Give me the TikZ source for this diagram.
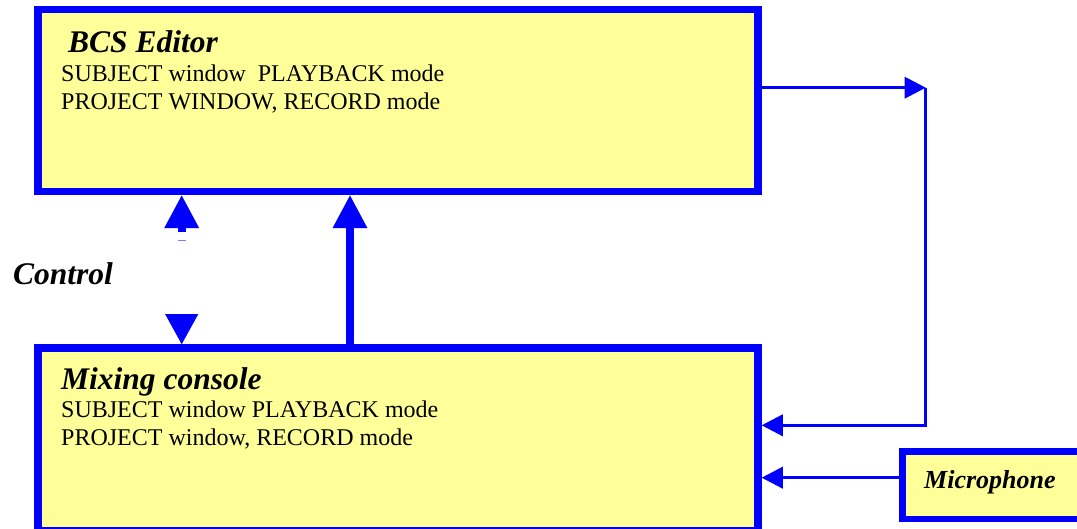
\documentclass[tikz,border=0pt]{standalone}
\usepackage{fontspec}
\setmainfont{Liberation Serif}
\usetikzlibrary{arrows.meta}
\definecolor{byel}{HTML}{FFFF99}
\definecolor{bblue}{HTML}{0000FF}
\tikzset{
  panel/.style={draw=bblue, fill=byel, line width=7.5pt, inner sep=0pt, rectangle},
  micbox/.style={draw=bblue, fill=byel, line width=6.7pt, inner sep=0pt, rectangle},
  titletext/.style={anchor=base west, inner sep=0pt, font=\fontsize{31.5}{36}\selectfont\bfseries\itshape},
  bodytext/.style={anchor=base west, inner sep=0pt, font=\fontsize{24}{28}\selectfont},
  mictext/.style={anchor=base west, inner sep=0pt, font=\fontsize{26}{30}\selectfont\bfseries\itshape},
  fatarrow/.style={draw=bblue, line width=7.6pt, -{Triangle[width=35pt,length=32.7pt,line width=0pt]}},
  thinarrow/.style={draw=bblue, line width=2.5pt, -{Triangle[width=22pt,length=21pt,line width=0pt]}},
  headonly/.style={draw=bblue, line width=1pt, -{Triangle[width=33pt,length=30pt,line width=0pt]}},
}
\begin{document}
\begin{tikzpicture}[x=1pt,y=-1pt]
\useasboundingbox (0,0) rectangle (1077,529);
% boxes
\node[panel, minimum width=720pt, minimum height=182.2pt] (top) at (398,100.6) {};
\node[panel, minimum width=720pt, minimum height=183pt] (mix) at (398,439.5) {};
\node[micbox, minimum width=182.5pt, minimum height=67.5pt] (mic) at (993.75,485.25) {};
% texts
\node[titletext] (toptitle) at (68,52.7) {BCS Editor};
\node[bodytext] (topl1) at (61,81.7) {SUBJECT window\ \ PLAYBACK mode};
\node[bodytext] (topl2) at (61,110) {PROJECT WINDOW, RECORD mode};
\node[titletext] (mixtitle) at (61,390) {Mixing console};
\node[bodytext] (mixl1) at (61,417.7) {SUBJECT window PLAYBACK mode};
\node[bodytext] (mixl2) at (61,446) {PROJECT window, RECORD mode};
\node[titletext] (ctl) at (13,285) {Control};
\node[mictext] (micl) at (924,488) {Microphone};
% coordinates
\coordinate (cu) at (181.7,232);
\coordinate (cd) at (181.7,314);
\coordinate (ra) at (350,0);
\coordinate (c1) at (925.7,87.7);
\coordinate (c2) at (925.7,425.3);
\coordinate (d1) at (178,240);
\coordinate (d2) at (186,240);
% control arrows
\draw[fatarrow, line width=8pt] (cu) -- (top.south -| cu);
\draw[bblue!50, line width=0.8pt] (d1) -- (d2);
\draw[headonly] (cd) -- (mix.north -| cd);
% thick up arrow
\draw[fatarrow] (mix.north -| ra) -- (top.south -| ra);
% right loop
\draw[thinarrow] (c1 -| top.east) -- (c1);
\draw[thinarrow] (c1) -- (c2) -- (c2 -| mix.east);
% microphone arrow
\draw[thinarrow] (mic.west |- 0,477.7) -- (mix.east |- 0,477.7);
\end{tikzpicture}
\end{document}
